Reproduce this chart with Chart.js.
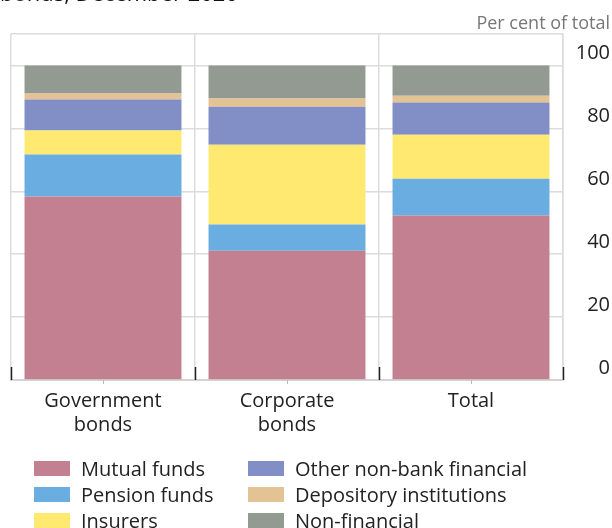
<!DOCTYPE html>
<html>
<head>
<meta charset="utf-8">
<script src="https://cdn.jsdelivr.net/npm/chart.js@4"></script>
<style>
  body { margin: 0; background: #fff; font-family: "Open Sans", sans-serif; }
  #wrap { position: relative; width: 612px; height: 528px; overflow: hidden; }
  #title { position: absolute; left: 0; top: -20px; font-size: 22px; line-height: 24px; color: #111; white-space: nowrap; }
  #unit { position: absolute; right: 2px; top: 10px; font-size: 18px; color: #777; }
  #legend { position: absolute; left: 34px; top: 455px; display: grid; grid-template-columns: 214px auto; grid-auto-flow: column; grid-template-rows: 26px 26px 26px; }
  .item { display: flex; align-items: center; font-size: 20px; color: #222; white-space: nowrap; }
  .sw { width: 36px; height: 15px; margin-right: 11px; }
</style>
</head>
<body>
<div id="wrap">
  <div id="title">bonds, December 2020</div>
  <div id="unit">Per cent of total</div>
  <canvas id="chart" width="612" height="528"></canvas>
  <div id="legend"></div>
</div>
<script>
const categories = [['Government', 'bonds'], ['Corporate', 'bonds'], 'Total'];
const seriesNames = ['Mutual funds', 'Pension funds', 'Insurers', 'Other non-bank financial', 'Depository institutions', 'Non-financial'];
const mutualFunds = [58.3, 41.1, 52.3];
const pensionFunds = [13.4, 8.3, 11.7];
const insurers = [7.6, 25.4, 14.0];
const otherNonBank = [9.9, 12.1, 10.2];
const depository = [1.9, 2.6, 2.2];
const nonFinancial = [8.9, 10.5, 9.6];
const yTicks = [0, 20, 40, 60, 80, 100];

const colors = ['#c28090', '#6aade0', '#ffe970', '#828fc6', '#e3c294', '#939a92'];
const values = [mutualFunds, pensionFunds, insurers, otherNonBank, depository, nonFinancial];

// dark marks at the foot of the category separators
const sepTicks = {
    id: 'sepTicks',
    afterDraw(chart) {
        const { ctx, chartArea } = chart;
        const step = (chartArea.right - chartArea.left) / categories.length;
        ctx.save();
        ctx.strokeStyle = '#222';
        ctx.lineWidth = 1.5;
        for (let i = 0; i <= categories.length; i++) {
            const x = Math.round(chartArea.left + i * step) + 0.5;
            ctx.beginPath();
            ctx.moveTo(x, chartArea.bottom);
            ctx.lineTo(x, chartArea.bottom - 13);
            ctx.stroke();
        }
        ctx.strokeStyle = '#bbb';
        ctx.lineWidth = 1;
        for (let i = 0; i < categories.length; i++) {
            const x = Math.round(chartArea.left + (i + 0.5) * step) + 0.5;
            ctx.beginPath();
            ctx.moveTo(x, chartArea.bottom);
            ctx.lineTo(x, chartArea.bottom + 4);
            ctx.stroke();
        }
        ctx.restore();
    }
};

new Chart(document.getElementById('chart'), {
    type: 'bar',
    data: {
        labels: categories,
        datasets: seriesNames.map((name, i) => ({
            label: name,
            data: values[i],
            backgroundColor: colors[i],
            borderWidth: 0,
            categoryPercentage: 1,
            barPercentage: 0.853
        }))
    },
    options: {
        responsive: false,
        animation: false,
        layout: { padding: { left: 11, right: 2, top: 34, bottom: 0 } },
        plugins: { legend: { display: false }, tooltip: { enabled: false } },
        scales: {
            x: {
                stacked: true,
                afterFit: scale => { scale.height = 148; },
                grid: { offset: true, color: '#dcdcdc', lineWidth: 1.5, drawTicks: false },
                border: { color: '#d4d4d4', width: 2 },
                ticks: { color: '#222', font: { family: 'Open Sans', size: 20, lineHeight: 1.2 }, padding: 9, maxRotation: 0 }
            },
            y: {
                stacked: true,
                position: 'right',
                min: 0,
                max: 110,
                afterBuildTicks: scale => { scale.ticks = yTicks.concat([110]).map(v => ({ value: v })); },
                afterFit: scale => { scale.width = 47; },
                grid: { color: '#dcdcdc', lineWidth: 1.5, drawTicks: false },
                border: { color: '#dcdcdc', width: 1.5 },
                ticks: {
                    color: '#222',
                    font: { family: 'Open Sans', size: 20 },
                    crossAlign: 'far',
                    labelOffset: -12,
                    callback: v => (v > 100 ? '' : v)
                }
            }
        }
    },
    plugins: [sepTicks]
});

const legend = document.getElementById('legend');
seriesNames.forEach((name, i) => {
    const item = document.createElement('div');
    item.className = 'item';
    item.innerHTML = `<span class="sw" style="background:${colors[i]}"></span>${name}`;
    legend.appendChild(item);
});
</script>
</body>
</html>
